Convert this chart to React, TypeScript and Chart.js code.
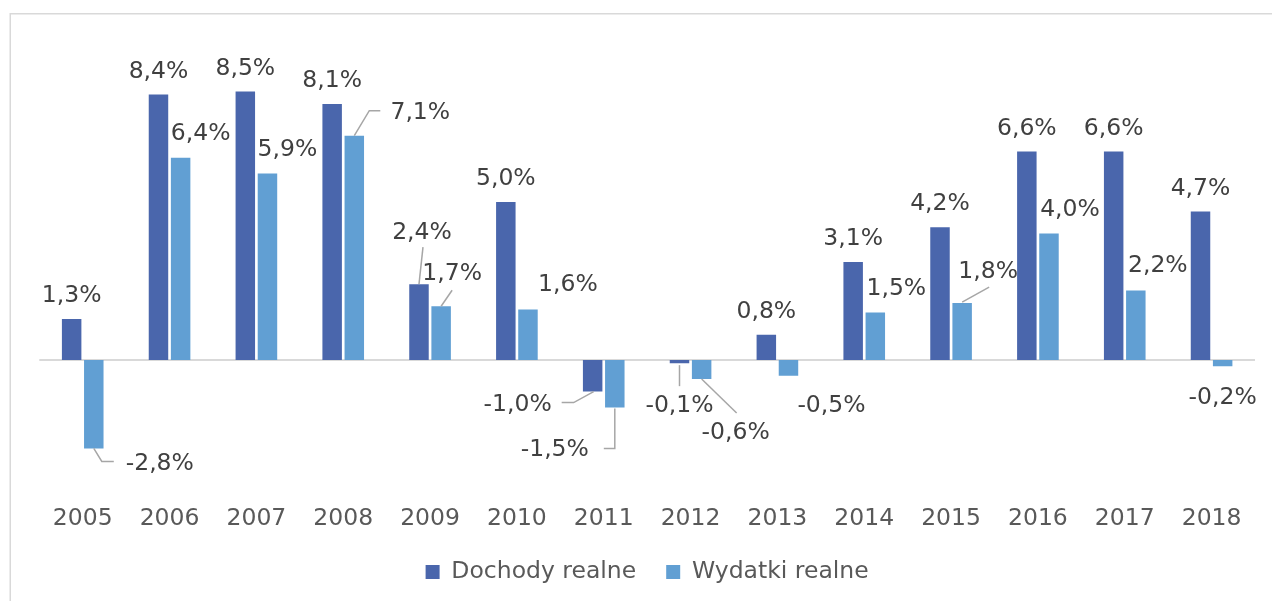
import React, { useEffect, useRef } from "react";
import { Chart, registerables } from "chart.js";

Chart.register(...registerables);

const years = ["2005", "2006", "2007", "2008", "2009", "2010", "2011", "2012", "2013", "2014", "2015", "2016", "2017", "2018"];
const dochodyRealne = [1.3, 8.4, 8.5, 8.1, 2.4, 5.0, -1.0, -0.1, 0.8, 3.1, 4.2, 6.6, 6.6, 4.7];
const wydatkiRealne = [-2.8, 6.4, 5.9, 7.1, 1.7, 1.6, -1.5, -0.6, -0.5, 1.5, 1.8, 4.0, 2.2, -0.2];
const seriesNames = ["Dochody realne", "Wydatki realne"];

// label placement tweaks (px, relative to the bar end) and leader lines
type LabelTweak = { dx: number; dy: number; leader?: number[][] };
const dochodyLabelTweaks: Record<number, LabelTweak> = {
  4: { dx: 3, dy: -52, leader: [[0, 0], [4, -37]] },
  6: { dx: -75, dy: 12, leader: [[1, 0], [-19, 11], [-31, 11]] },
  7: { dx: 0, dy: 42, leader: [[0, 2], [0, 23]] },
};
const wydatkiLabelTweaks: Record<number, LabelTweak> = {
  0: { dx: 66, dy: 14, leader: [[0, 0], [8, 13], [20, 13]] },
  1: { dx: 20, dy: -25 },
  2: { dx: 20, dy: -25 },
  3: { dx: 66, dy: -24, leader: [[0, 0], [15, -25], [26, -25]] },
  4: { dx: 11, dy: -33, leader: [[0, 0], [11, -16]] },
  5: { dx: 40, dy: -26 },
  6: { dx: -60, dy: 41, leader: [[0, 1], [0, 41], [-11, 41]] },
  7: { dx: 34, dy: 53, leader: [[0, 0], [35, 34]] },
  8: { dx: 43, dy: 29 },
  9: { dx: 21, dy: -25 },
  10: { dx: 26, dy: -32, leader: [[0, -1], [27, -16]] },
  11: { dx: 21, dy: -25 },
  12: { dx: 22, dy: -26 },
  13: { dx: 0, dy: 31 },
};

const FONT = "'DejaVu Sans', Verdana, sans-serif";
const FONT_SIZE = 23.5;

const fmt = (v: number) => v.toFixed(1).replace(".", ",") + "%";

const framePlugin = {
  id: "frame",
  beforeDraw(chart: any) {
    const ctx = chart.ctx;
    ctx.save();
    ctx.fillStyle = "#ffffff";
    ctx.fillRect(0, 0, chart.width, chart.height);
    ctx.strokeStyle = "#d9d9d9";
    ctx.lineWidth = 1.5;
    ctx.strokeRect(10.25, 13.75, chart.width + 50, chart.height + 50);
    ctx.restore();
  },
  beforeDatasetsDraw(chart: any) {
    const ctx = chart.ctx;
    const y = chart.scales.y.getPixelForValue(0);
    ctx.save();
    ctx.strokeStyle = "#d9d9d9";
    ctx.lineWidth = 2;
    ctx.beginPath();
    ctx.moveTo(chart.chartArea.left, y);
    ctx.lineTo(chart.chartArea.right, y);
    ctx.stroke();
    ctx.restore();
  },
};

const labelPlugin = {
  id: "barLabels",
  afterDatasetsDraw(chart: any) {
    const ctx = chart.ctx;
    const tweaksList = [dochodyLabelTweaks, wydatkiLabelTweaks];
    ctx.save();
    ctx.font = `${FONT_SIZE}px ${FONT}`;
    ctx.textAlign = "center";
    ctx.textBaseline = "middle";
    chart.data.datasets.forEach((ds: any, di: number) => {
      const meta = chart.getDatasetMeta(di);
      meta.data.forEach((bar: any, i: number) => {
        const v = ds.data[i] as number;
        const ax = bar.x;
        const ay = bar.y;
        const tw = tweaksList[di][i] || { dx: 0, dy: v >= 0 ? -24 : 24 };
        if (tw.leader) {
          ctx.strokeStyle = "#a6a6a6";
          ctx.lineWidth = 1.5;
          ctx.beginPath();
          tw.leader.forEach((p, k) => {
            if (k === 0) ctx.moveTo(ax + p[0], ay + p[1]);
            else ctx.lineTo(ax + p[0], ay + p[1]);
          });
          ctx.stroke();
        }
        ctx.fillStyle = "#404040";
        ctx.fillText(fmt(v), ax + tw.dx, ay + tw.dy + 1);
      });
    });
    ctx.restore();
  },
};

export default function App() {
  const canvasRef = useRef<HTMLCanvasElement>(null);

  useEffect(() => {
    if (!canvasRef.current) return;
    const chart = new Chart(canvasRef.current, {
      type: "bar",
      data: {
        labels: years,
        datasets: [
          {
            label: seriesNames[0],
            data: dochodyRealne,
            backgroundColor: "#4a66ac",
            borderWidth: 0,
            categoryPercentage: 0.51,
            barPercentage: 0.88,
          },
          {
            label: seriesNames[1],
            data: wydatkiRealne,
            backgroundColor: "#619fd3",
            borderWidth: 0,
            categoryPercentage: 0.51,
            barPercentage: 0.88,
          },
        ],
      },
      options: {
        responsive: false,
        animation: false,
        maintainAspectRatio: false,
        layout: { padding: { left: 39.3, right: 17, top: 44, bottom: 7.25 } },
        plugins: {
          legend: {
            position: "bottom",
            labels: {
              boxWidth: 14,
              boxHeight: 14,
              padding: 30,
              color: "#595959",
              font: { family: FONT, size: FONT_SIZE },
            },
          },
          tooltip: { enabled: false },
        },
        scales: {
          x: {
            grid: { display: false },
            border: { display: false },
            ticks: {
              color: "#595959",
              padding: 10,
              font: { family: FONT, size: FONT_SIZE },
            },
            afterFit: (scale: any) => {
              scale.height = 43.85;
            },
          },
          y: {
            display: false,
            min: -4,
            max: 10,
          },
        },
      },
      plugins: [framePlugin, labelPlugin],
    });
    return () => chart.destroy();
  }, []);

  return (
    <div style={{ position: "fixed", left: 0, top: 0, width: 1272, height: 601, overflow: "hidden", background: "#fff" }}>
      <canvas ref={canvasRef} width={1272} height={601} style={{ display: "block" }} />
    </div>
  );
}
